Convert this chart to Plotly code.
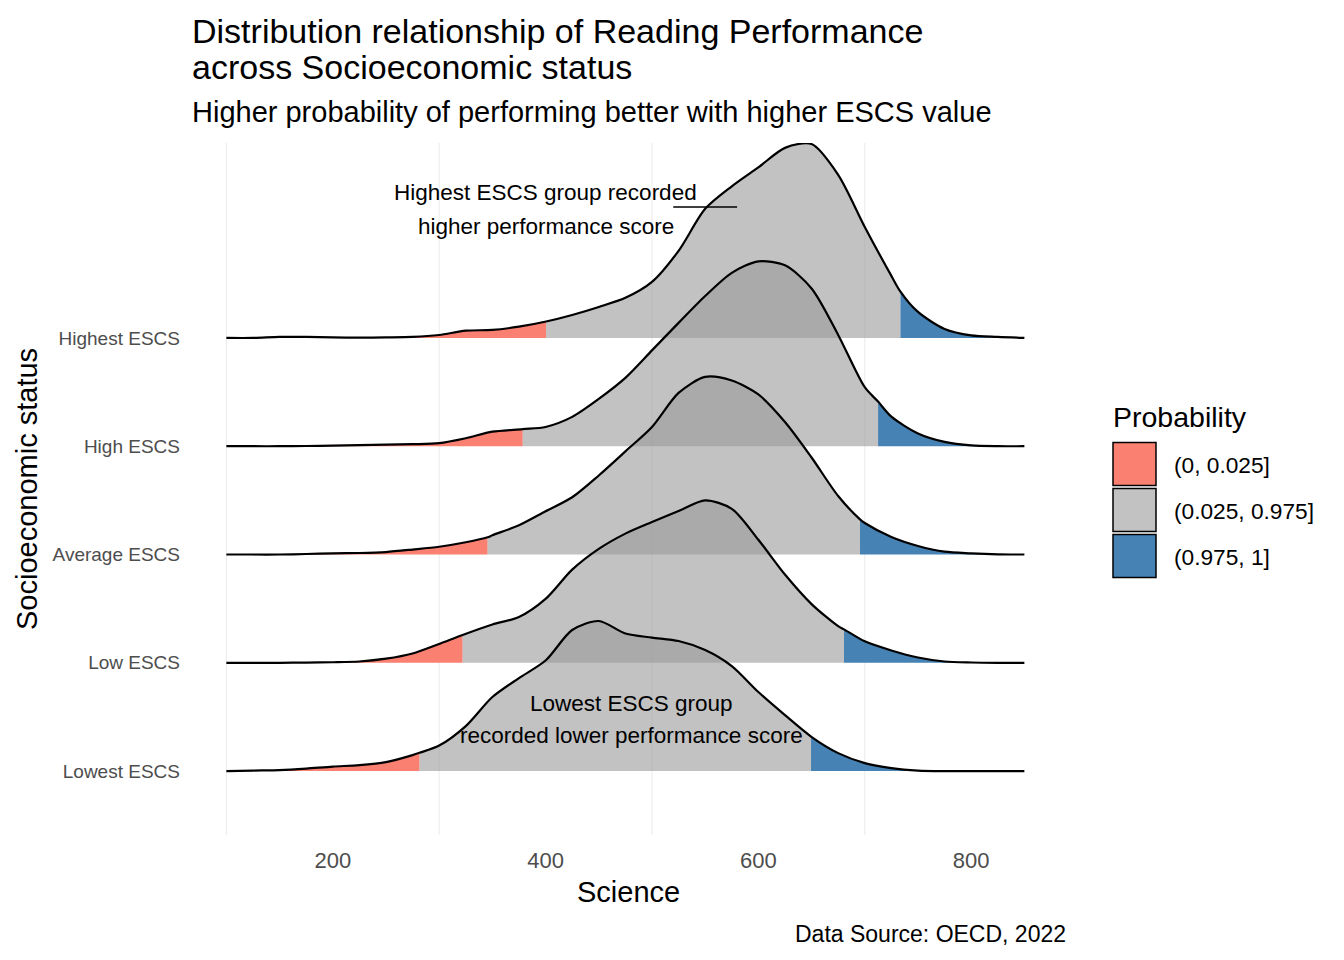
import plotly.graph_objects as go

# science score grid the ridge heights were read on
score = list(range(100, 851, 25))

groups = ["Lowest ESCS", "Low ESCS", "Average ESCS", "High ESCS", "Highest ESCS"]

# scaled density (ridge height, in row units) per score value
lowest = [0, 0.005, 0.009, 0.023, 0.042, 0.055, 0.083, 0.148, 0.236, 0.416, 0.684,
          0.859, 1.021, 1.303, 1.386, 1.270, 1.233, 1.201, 1.118, 0.970, 0.730,
          0.517, 0.305, 0.166, 0.074, 0.028, 0.005, 0, 0, 0, 0]
low = [0, 0, 0, 0.002, 0.005, 0.012, 0.038, 0.086, 0.174, 0.275, 0.354,
       0.423, 0.590, 0.860, 1.052, 1.193, 1.300, 1.402, 1.500, 1.422, 1.136,
       0.815, 0.542, 0.338, 0.198, 0.114, 0.049, 0.012, 0.003, 0, 0]
average = [0, 0, 0, 0.005, 0.011, 0.014, 0.023, 0.046, 0.072, 0.113, 0.178,
           0.270, 0.399, 0.529, 0.730, 0.952, 1.178, 1.492, 1.640, 1.607, 1.478,
           1.224, 0.896, 0.540, 0.291, 0.162, 0.079, 0.026, 0.011, 0.002, 0]
high = [0, 0, 0, 0.002, 0.005, 0.010, 0.015, 0.019, 0.028, 0.074, 0.134,
        0.155, 0.178, 0.271, 0.437, 0.631, 0.885, 1.139, 1.387, 1.601, 1.707,
        1.670, 1.457, 1.028, 0.545, 0.273, 0.118, 0.040, 0.007, 0, 0]
highest = [0, 0, 0.009, 0.009, 0.005, 0.003, 0.005, 0.009, 0.027, 0.067, 0.074,
           0.104, 0.152, 0.212, 0.286, 0.370, 0.517, 0.804, 1.192, 1.400, 1.575,
           1.755, 1.790, 1.506, 1.025, 0.573, 0.240, 0.083, 0.023, 0.009, 0]
heights = [lowest, low, average, high, highest]

# 2.5% / 97.5% quantiles of each group and the ridge height there
q025 = [281.5, 322.0, 345.5, 378.5, 400.5]
q975 = [649.5, 680.5, 695.5, 712.5, 733.5]
q025_h = [0.169, 0.257, 0.159, 0.158, 0.152]
q975_h = [0.319, 0.309, 0.325, 0.412, 0.428]

prob_labels = ["(0, 0.025]", "(0.025, 0.975]", "(0.975, 1]"]
prob_fill = ["#FA8072", "rgba(153,153,153,0.6)", "#4682B4"]
prob_key = ["#FA8072", "#C2C2C2", "#4682B4"]

grid_x = [100, 300, 500, 700]

FONT = "Liberation Sans, Arial, sans-serif"
W, H = 1344, 960
OFF = 8  # page body margin
# panel edges in page pixels
P_L, P_R, P_T, P_B = 187, 1068, 143, 835
PW = P_R - P_L
PH = P_B - P_T


def px(x):
    return (x - P_L) / PW


def py(y):
    return (P_B - y) / PH


fig = go.Figure()

## top ridge first so the lower ones lie over it
for i in reversed(range(len(groups))):
    base = i + 1
    lo, hi = q025[i], q975[i]
    pts = [(x, h) for x, h in zip(score, heights[i]) if abs(x - lo) > 4 and abs(x - hi) > 4]
    pts += [(lo, q025_h[i]), (hi, q975_h[i])]
    pts.sort()
    bounds = [(score[0], lo), (lo, hi), (hi, score[-1])]
    for (a, b), col in zip(bounds, prob_fill):
        seg = [p for p in pts if a <= p[0] <= b]
        xs = [p[0] for p in seg]
        fig.add_trace(go.Scatter(x=xs, y=[base] * len(xs), mode="lines",
                                 line=dict(width=0), hoverinfo="skip", showlegend=False))
        fig.add_trace(go.Scatter(x=xs, y=[base + p[1] for p in seg], mode="lines",
                                 fill="tonexty", fillcolor=col,
                                 line=dict(width=0, shape="spline", smoothing=0.8),
                                 hoverinfo="skip", showlegend=False))
    fig.add_trace(go.Scatter(x=[p[0] for p in pts], y=[base + p[1] for p in pts],
                             mode="lines", name=groups[i], showlegend=False,
                             line=dict(color="black", width=2.2, shape="spline", smoothing=0.8)))

shapes = []
for gx in grid_x:
    shapes.append(dict(type="line", xref="x", yref="paper", x0=gx, x1=gx, y0=0, y1=1,
                       line=dict(color="#EBEBEB", width=1), layer="below"))

# pointer segment of the upper note
shapes.append(dict(type="line", xref="x", yref="y", x0=520, x1=580, y0=6.21, y1=6.21,
                   line=dict(color="black", width=1.5)))

annotations = [
    dict(text="Distribution relationship of Reading Performance", x=px(190), y=py(30.5),
         font=dict(size=34)),
    dict(text="across Socioeconomic status", x=px(190), y=py(66.5), font=dict(size=34)),
    dict(text="Higher probability of performing better with higher ESCS value",
         x=px(190), y=py(112), font=dict(size=29)),
    dict(text="Data Source: OECD, 2022", x=px(1068), y=py(934), xanchor="right",
         font=dict(size=23)),
    dict(text="Science", x=px(628), y=py(892.5), xanchor="center", font=dict(size=29)),
    dict(text="Socioeconomic status", x=px(27), y=py(489), xanchor="center",
         textangle=-90, font=dict(size=29)),
    dict(text="Probability", x=px(1111), y=py(416.5), font=dict(size=28.5)),
]
for a in annotations:
    a.setdefault("xanchor", "left")
    a.update(xref="paper", yref="paper", yanchor="middle", showarrow=False)
    a["font"].update(family=FONT, color="black")

# notes inside the panel
for text, x, y in [("Highest ESCS group recorded", 400, 6.34),
                   ("higher performance score", 400, 6.03),
                   ("Lowest ESCS group", 481, 1.628),
                   ("recorded lower performance score", 481, 1.333)]:
    annotations.append(dict(text=text, x=x, y=y, xref="x", yref="y", showarrow=False,
                            xanchor="center", yanchor="middle",
                            font=dict(family=FONT, size=22.5, color="black")))

# legend keys
for k, (lab, col) in enumerate(zip(prob_labels, prob_key)):
    top = 442.5 + 46 * k
    shapes.append(dict(type="rect", xref="paper", yref="paper",
                       x0=px(1113), x1=px(1156), y0=py(top + 43), y1=py(top),
                       fillcolor=col, line=dict(color="black", width=1.5)))
    annotations.append(dict(text=lab, x=px(1172), y=py(top + 22.5), xref="paper", yref="paper",
                            xanchor="left", yanchor="middle", showarrow=False,
                            font=dict(family=FONT, size=22.7, color="black")))

fig.update_layout(
    width=W, height=H,
    margin=dict(l=P_L - OFF, r=W - (P_R - OFF), t=P_T - OFF, b=H - (P_B - OFF)),
    paper_bgcolor="white", plot_bgcolor="white",
    font=dict(family=FONT, color="black"),
    showlegend=False,
    shapes=shapes,
    annotations=annotations,
    xaxis=dict(range=[63, 891], tickmode="array", tickvals=[200, 400, 600, 800],
               showgrid=False, zeroline=False, showline=False, ticks="",
               ticklabelstandoff=10, tickfont=dict(size=22, color="#4D4D4D")),
    yaxis=dict(range=[0.41, 6.80], tickmode="array", tickvals=[1, 2, 3, 4, 5],
               ticktext=groups, showgrid=False, zeroline=False, showline=False, ticks="",
               ticklabelstandoff=6, tickfont=dict(size=19, color="#4D4D4D")),
)

fig.write_html("out.html")
